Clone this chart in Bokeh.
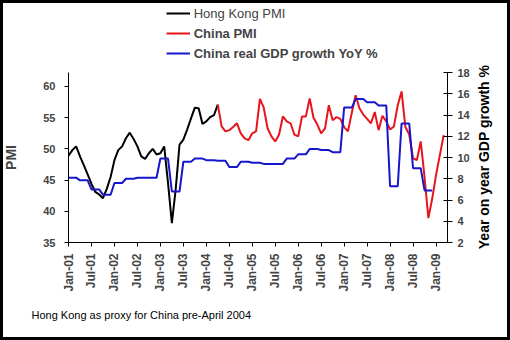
import math
from bokeh.plotting import figure
from bokeh.layouts import column, row
from bokeh.models import (Range1d, LinearAxis, FixedTicker, Legend, LegendItem,
                          Label, ColumnDataSource)
from bokeh.embed import file_html
from bokeh.resources import INLINE

# ---------------- data ----------------
tick_months = [0, 6, 12, 18, 24, 30, 36, 42, 48, 54, 60, 66, 72, 78, 84, 90, 96]
tick_labels = ["Jan-01", "Jul-01", "Jan-02", "Jul-02", "Jan-03", "Jul-03",
               "Jan-04", "Jul-04", "Jan-05", "Jul-05", "Jan-06", "Jul-06",
               "Jan-07", "Jul-07", "Jan-08", "Jul-08", "Jan-09"]

# Hong Kong PMI, Jan-01 .. Apr-04 (monthly)
hk_pmi = [48.9, 49.8, 50.4, 48.8, 47.4, 45.9, 44.4, 43.1, 42.7, 42.1,
          43.6, 45.5, 48.2, 49.8, 50.4, 51.7, 52.6, 51.6, 50.4, 48.8,
          48.4, 49.3, 50.0, 49.1, 49.3, 50.4, 44.5, 38.1, 43.5, 50.7,
          51.5, 53.1, 54.9, 56.6, 56.5, 54.0, 54.4, 55.1, 55.4, 57.1]
hk_start = 0

# China PMI, Apr-04 .. Mar-09 (monthly)
china_pmi = [57.1, 53.6, 52.8, 53.0, 53.5, 54.1, 52.5, 51.7, 51.4, 52.5,
             52.8, 58.0, 56.6, 53.3, 52.0, 51.2, 52.3, 55.2, 54.4, 54.1,
             52.3, 52.0, 55.2, 55.2, 58.1, 55.0, 53.9, 52.5, 53.3, 57.0,
             54.6, 55.1, 54.8, 53.5, 52.8, 55.8, 58.6, 56.5, 55.5, 54.8,
             54.1, 55.9, 53.0, 55.3, 54.4, 53.1, 53.6, 57.0, 59.2, 53.5,
             52.3, 48.5, 48.2, 51.2, 45.5, 38.9, 42.0, 45.8, 49.0, 52.2]
china_start = 39

# China real GDP growth YoY %, 2001Q1 .. 2008Q4 (quarterly)
gdp_quarterly = [8.1, 7.85, 7.0, 6.5,
                 7.6, 8.0, 8.1, 8.1,
                 9.9, 6.8, 9.6, 9.9,
                 9.75, 9.7, 9.1, 9.6,
                 9.5, 9.4, 9.4, 9.9,
                 10.3, 10.8, 10.7, 10.5,
                 14.7, 15.5, 15.2, 14.9,
                 7.3, 13.2, 9.0, 6.9]

series_names = ["Hong Kong PMI", "China PMI", "China real GDP growth YoY %"]
left_title = "PMI"
right_title = "Year on year GDP growth %"
footnote = "Hong Kong as proxy for China pre-April 2004"

# monthly representation (each quarter's value held for its 3 months)
gdp_monthly = [v for v in gdp_quarterly for _ in range(3)]

hk_src = ColumnDataSource(dict(m=list(range(hk_start, hk_start + len(hk_pmi))), v=hk_pmi))
cn_src = ColumnDataSource(dict(m=list(range(china_start, china_start + len(china_pmi))), v=china_pmi))
gdp_src = ColumnDataSource(dict(m=list(range(len(gdp_monthly))), v=gdp_monthly))

FONT = "Liberation Sans"
BLACK = "black"
RED = "#e8141b"
BLUE = "#1616cc"
W = 510
H_TOP, H_MAIN, H_NOTE = 64, 232, 44
W_MAIN, W_RT = 472, 38


def bare(fig):
    fig.outline_line_color = None
    fig.grid.visible = False
    fig.background_fill_color = None
    fig.border_fill_color = None
    fig.min_border = 0
    if "frame_align" in fig.properties():
        fig.frame_align = False
    return fig


# ---------------- legend strip (top) ----------------
lf = bare(figure(width=W, height=H_TOP, output_backend="svg", toolbar_location=None,
                 x_range=Range1d(0, 1), y_range=Range1d(0, 1),
                 x_axis_location=None, y_axis_location=None))
# legend swatches only (single point outside the view, nothing drawn)
d_hk = lf.line([-1], [-1], line_color=BLACK, line_width=2)
d_cn = lf.line([-1], [-1], line_color=RED, line_width=2)
d_gdp = lf.line([-1], [-1], line_color=BLUE, line_width=2)

leg1 = Legend(items=[LegendItem(label=series_names[0], renderers=[d_hk])],
              location=(165.7, 40.7))
leg2 = Legend(items=[LegendItem(label=series_names[1], renderers=[d_cn]),
                     LegendItem(label=series_names[2], renderers=[d_gdp])],
              location=(165.7, 1.0))
for lg, style in ((leg1, "normal"), (leg2, "bold")):
    lg.label_text_font = FONT
    lg.label_text_font_style = style
    lg.label_text_font_size = "13px"
    lg.glyph_width = 24
    lg.glyph_height = 20
    lg.label_height = 20
    lg.label_standoff = 4
    lg.padding = 0
    lg.margin = 0
    lg.spacing = 0
    lg.border_line_color = None
    lg.background_fill_alpha = 0
    lf.add_layout(lg, "center")

# ---------------- main chart ----------------
p = figure(width=W_MAIN, height=H_MAIN, output_backend="svg", toolbar_location=None,
           x_range=Range1d(0, 99), y_range=Range1d(35, 62.24),
           min_border_left=67, min_border_right=W_MAIN - 447, min_border_top=8,
           min_border_bottom=54)
p.outline_line_color = None
p.grid.visible = False
p.background_fill_color = "white"
p.border_fill_color = None
if "frame_align" in p.properties():
    p.frame_align = False

p.extra_y_ranges = {"gdp": Range1d(2, 18)}

p.line("m", "v", source=hk_src, line_color=BLACK, line_width=2)
p.line("m", "v", source=cn_src, line_color=RED, line_width=2)
p.line("m", "v", source=gdp_src, line_color=BLUE, line_width=2, y_range_name="gdp")

# x axis
xa = p.xaxis[0]
xa.ticker = FixedTicker(ticks=tick_months)
xa.major_label_overrides = {m: l for m, l in zip(tick_months, tick_labels)}
xa.major_label_orientation = math.pi / 2
xa.major_label_text_font = FONT
xa.major_label_text_font_style = "bold"
xa.major_label_text_font_size = "12px"
xa.major_label_standoff = 7
xa.major_tick_out = 4
xa.major_tick_in = 0
xa.minor_tick_out = 0
xa.minor_tick_in = 0
xa.axis_line_color = BLACK
xa.major_tick_line_color = BLACK

# left axis
ya = p.yaxis[0]
ya.ticker = FixedTicker(ticks=[35, 40, 45, 50, 55, 60])
ya.axis_label = left_title
ya.axis_label_text_font = FONT
ya.axis_label_text_font_style = "bold"
ya.axis_label_text_font_size = "14px"
ya.axis_label_standoff = 21
ya.major_label_text_font = FONT
ya.major_label_text_font_style = "bold"
ya.major_label_text_font_size = "11px"
ya.major_label_standoff = 9
ya.major_tick_out = 4
ya.major_tick_in = 0
ya.minor_tick_out = 0
ya.minor_tick_in = 0
ya.axis_line_color = BLACK
ya.major_tick_line_color = BLACK

# right axis (its title is drawn in the strip to the right)
ra = LinearAxis(y_range_name="gdp", ticker=FixedTicker(ticks=[2, 4, 6, 8, 10, 12, 14, 16, 18]))
ra.major_label_text_font = FONT
ra.major_label_text_font_style = "bold"
ra.major_label_text_font_size = "11px"
ra.major_label_standoff = 5
ra.major_tick_out = 5
ra.major_tick_in = 4
ra.minor_tick_out = 0
ra.minor_tick_in = 0
ra.axis_line_color = BLACK
ra.major_tick_line_color = BLACK
p.add_layout(ra, "right")

# ---------------- right-axis title strip ----------------
rf = bare(figure(width=W_RT, height=H_MAIN, output_backend="svg", toolbar_location=None,
                 x_range=Range1d(0, W_RT), y_range=Range1d(0, H_MAIN),
                 x_axis_location=None, y_axis_location=None))
rf.add_layout(Label(x=11, y=139.5, text=right_title, angle=math.pi / 2,
                    text_font=FONT, text_font_size="14px", text_font_style="bold",
                    text_align="center", text_baseline="middle", text_color=BLACK))

# ---------------- footnote strip (bottom) ----------------
nf = bare(figure(width=W, height=H_NOTE, output_backend="svg", toolbar_location=None,
                 x_range=Range1d(0, W), y_range=Range1d(0, H_NOTE),
                 x_axis_location=None, y_axis_location=None))
nf.add_layout(Label(x=31, y=26, text=footnote, text_font=FONT,
                    text_font_size="11px", text_baseline="middle",
                    text_color=BLACK))

layout = column(lf, row(p, rf, spacing=0), nf, spacing=0,
                styles={"box-shadow": "inset 0 0 0 3px black",
                        "background-color": "white"})

open("out.html", "w").write(file_html(layout, INLINE))
